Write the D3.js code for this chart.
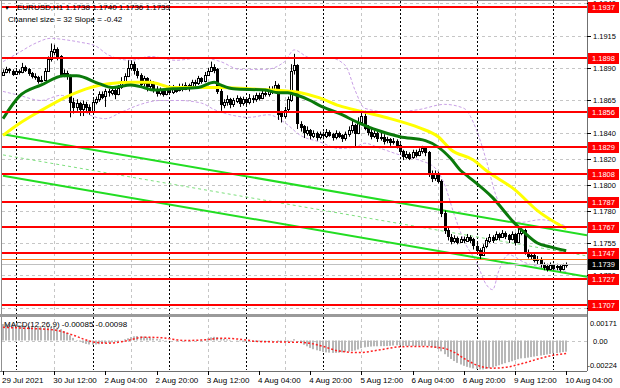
<!DOCTYPE html>
<html>
<head>
<meta charset="utf-8">
<script src="https://cdn.jsdelivr.net/npm/d3@7"></script>
<style>
  body { margin: 0; background: #fff; }
  svg { display: block; font-family: "Liberation Sans", Arial, sans-serif; }
</style>
</head>
<body>
<div id="chart"></div>
<script>
// ---- data (prices in pips above 1.1700) ----
const symbolTitle = "EURUSD,H1";
const lastBar = [1.1738, 1.1740, 1.1736, 1.1739];
const channelText = "Channel size = 32 Slope = -0.42";
const firstOpenPips = 185;

const closePips = [187,189,188,186, 188,187,191,189, 186,184,183,180,181, 188,197, 203,205, 199,185, 186,184, 164,
  160,163,158,162,160,157, 164,166,170,168,172,171, 173,170,175, 180,184,190,193,188, 185,178,182,176,179,
  174,171,173,170,174,172,175,173,176, 174,177,175,179,178,182,180, 185,188,191,189, 172,162,
  164,166,162,165,167,163,166,164,167, 166,169,167,171,170,174,172,177, 155, 153,158,166, 188,192, 147,
  145,140,142,138,140,137,139, 138,141,139,137,140,138,136,139, 142,146,140,148,153,144,
  141,138,140,136,137,134,135, 133,134,131, 126,122,124,121, 125,123,126,128,125, 109, 105,109,103,
  78, 65, 60, 57,59,56,58,57,60,58, 53, 50, 46, 52, 57,60,58,62,60,63,61, 58,62,56,63,65, 48, 45,
  46,42,43,39, 37,35,38,36,37,35,38,39];

const highPips = [189,191,190,189,190,189,194,192,190,187,186,184,184,
  190,199,209,208,206,200,189,188,185,167,166,164,165,164,162,
  166,168,172,172,174,174,176,175,177,183,186,196,196,195,190,186,184,183,181,
  180,176,175,174,176,175,177,176,178,178,179,178,181,181,184,183,
  187,190,195,193,190,174,166,169,167,167,169,168,168,167,170,
  169,171,171,173,174,176,176,180,178,157,160,168,193,201,193,
  149,146,145,143,142,141,141,141,143,142,140,142,141,139,141,
  145,150,147,152,157,157,146,143,142,141,140,139,137,136,136,135,
  132,127,126,125,127,127,128,130,129,126,111,111,110,104,80,67,
  62,61,60,60,60,62,61,59,55,51,54,59,62,61,64,63,65,64,62,64,63,67,67,
  66,50,48,47,45,44,40,39,40,39,39,38,39,40];

const lowPips = [184,186,186,184,185,185,186,187,184,182,181,178,179,
  180,187,195,200,196,183,183,181,152,155,157,153,153,156,154,
  156,162,164,166,160,168,169,166,169,174,178,183,188,185,182,175,176,172,174,
  171,168,169,168,169,170,170,171,172,172,173,172,174,176,177,178,
  179,184,187,186,170,157,159,161,159,160,163,160,161,161,162,
  163,164,165,166,168,168,170,171,150,148,151,156,164,185,143,
  141,136,138,135,136,134,135,135,136,137,134,135,136,133,134,
  137,140,129,139,146,142,138,135,136,133,134,131,132,130,131,128,
  123,119,120,119,120,121,122,124,122,106,102,103,101,75,62,57,
  54,55,54,55,55,56,55,50,47,42,45,51,55,55,57,57,59,58,55,57,53,55,61,
  46,43,42,40,38,36,34,33,34,34,34,33,34,36];

// moving averages, sampled [bar, pips]
const fastMaBars = [0,5,12,19,23,30,34,40,44,47,53,61,66,68,72,82,86,89,92,96,99,105,111,117,124,132,136,140,143,145,153,160,163,167,171,176];
const fastMa     = [151,168,177,184,184,178,175,177,175,173,174,175,179,177,174,173,171,171,169,165,161,155,148,142,137,134,129,120,111,107,90,70,63,55,52,49];
const slowMaBars = [0,5,11,20,26,33,41,46,53,61,68,77,85,93,99,105,113,121,130,136,140,147,151,160,167,176];
const slowMa     = [138,147,156,168,174,178,179,179,175,175,175,174,173,171,167,161,156,151,144,137,127,119,111,96,80,66];

// envelope bands (dashed), sampled [bar, pips]
const upperBandBars = [0,5,10,15,19,24,29,33,40,46,54,62,68,74,82,88,91,96,102,107,110,113,121,130,138,144,148,151,154,157,162,168,176];
const upperBand     = [195,202,209,213,212,210,207,200,196,199,196,198,195,189,189,195,204,198,198,192,173,159,156,158,162,159,142,119,92,77,71,73,68];
const lowerBandBars = [0,5,12,18,23,27,32,37,43,49,55,62,66,71,77,83,88,93,99,105,110,113,118,124,130,135,138,141,144,148,151,153,155,158,163,169,176];
const lowerBand     = [172,169,165,169,162,154,151,156,162,165,165,163,158,154,152,154,148,138,133,128,129,132,128,123,119,113,100,77,57,40,23,19,34,46,40,36,33];

// regression channel [bar, upper, lower]
const channelStart = [0, 1.1839, 1.1807];
const channelEnd   = [182.5, 1.1761, 1.1729];

// horizontal levels
const levels = [1.1937, 1.1898, 1.1856, 1.1829, 1.1808, 1.1787, 1.1767, 1.1747, 1.1727, 1.1707];
const pendingLevel = 1.1743;
const bidPrice = 1.1739;
const priceTicks = [1.1940, 1.1915, 1.1890, 1.1865, 1.1840, 1.1820, 1.1800, 1.1780, 1.1755, 1.1730, 1.1705];

// MACD histogram (x 1e-5), one per bar
const macdHist = [125,124,123,121,119,117,115,113,110,107,104,101,99,
  100,102,104,104,98,86,72,58,40,20,4,-8,-18,-26,-30,-32,-30,-28,-25,-22,-18,-14,-10,-5,
  2,9,17,26,32,34,32,30,25,22,
  16,11,8,4,2,0,-1,-2,-1,0,-1,0,1,0,2,4,
  10,16,24,28,25,18,12,
  8,4,0,-3,-5,-6,-8,-9,-10,-9,-8,-7,-5,-3,-2,0,-6,-10,-12,-10,2,10,
  0,-18,-32,-44,-56,-66,-74,-80,
  -86,-90,-92,-94,-94,-92,-90,-88,-84,
  -80,-76,-68,-58,-52,-48,-46,-44,-44,-43,-43,-42,-40,-38,-37,
  -38,-40,-41,-42,-42,-41,-40,-40,-40,-42,-50,-56,
  -64,-82,-104,-124,-140,-156,-170,-182,-192,-200,-206,
  -212,-216,-220,-220,-216,-210,-204,
  -196,-188,-180,-172,-164,-158,-150,-142,-136,-134,-130,-126,-122,-118,-114,-110,-106,-102,-98,-95,-92,-88,-85];
const signalBars = [0,8,16,22,28,33,38,44,50,57,63,68,74,80,88,94,100,105,111,118,124,130,137,141,145,149,153,158,163,168,172,176];
const signal     = [100,92,80,40,-10,-20,-5,25,20,0,5,18,10,-8,-12,-15,-45,-80,-92,-70,-48,-45,-55,-90,-150,-195,-210,-200,-170,-135,-112,-98];
const macdTicks = [0.00171, 0, -0.00224];
const macdText = "MACD(12,26,9) -0.00085 -0.00098";

const timeLabels = ["29 Jul 2021","30 Jul 12:00","2 Aug 04:00","2 Aug 20:00","3 Aug 12:00","4 Aug 04:00",
  "4 Aug 20:00","5 Aug 12:00","6 Aug 04:00","6 Aug 20:00","9 Aug 12:00","10 Aug 04:00"];
const timeLabelBars = [0,16,32,48,64,80,96,112,128,144,160,176];
const daySeparatorBars = [4,28,52,76,100,124,148,172];
const midGridBars = [16,40,64,88,112,136,160];

// ---- layout ----
const pip = p => 1.17 + p / 10000;
const width = 620, height = 388;
const plotRight = 587, plotLeft = 2;
const mainTop = 2, mainBottom = 313;
const macdTop = 318, macdBottom = 370;

const xScale = d3.scaleLinear().domain([0, 182.5]).range([3, plotRight]);
const yScale = d3.scaleLinear().domain([1.1701, 1.1941]).range([mainBottom, mainTop]);
const yMacd = d3.scaleLinear().domain([-0.00224, 0.00171]).range([macdBottom, macdTop]);

const svg = d3.select("#chart").append("svg").attr("width", width).attr("height", height);
svg.append("rect").attr("width", width).attr("height", height).attr("fill", "#fff");

const defs = svg.append("defs");
defs.append("clipPath").attr("id", "clipMain").append("rect")
  .attr("x", plotLeft).attr("y", 1).attr("width", plotRight - plotLeft).attr("height", mainBottom);
defs.append("clipPath").attr("id", "clipMacd").append("rect")
  .attr("x", plotLeft).attr("y", macdTop - 1).attr("width", plotRight - plotLeft).attr("height", macdBottom - macdTop + 2);

const crisp = v => Math.round(v) + 0.5;

// grid
const grid = svg.append("g");
grid.selectAll(".hgrid").data(priceTicks).join("line")
  .attr("x1", plotLeft).attr("x2", plotRight)
  .attr("y1", d => crisp(yScale(d))).attr("y2", d => crisp(yScale(d)))
  .attr("stroke", "#c6c6c6").attr("stroke-dasharray", "3,3");
grid.selectAll(".vgrid").data(midGridBars).join("line")
  .attr("x1", d => crisp(xScale(d))).attr("x2", d => crisp(xScale(d)))
  .attr("y1", 1).attr("y2", macdBottom)
  .attr("stroke", "#c6c6c6").attr("stroke-dasharray", "3,3");
grid.selectAll(".dsep").data(daySeparatorBars).join("line")
  .attr("x1", d => crisp(xScale(d))).attr("x2", d => crisp(xScale(d)))
  .attr("y1", 1).attr("y2", macdBottom)
  .attr("stroke", "#000").attr("stroke-dasharray", "2,2");
grid.append("line").attr("x1", plotLeft).attr("x2", plotRight)
  .attr("y1", crisp(yMacd(0))).attr("y2", crisp(yMacd(0)))
  .attr("stroke", "#c6c6c6").attr("stroke-dasharray", "3,3");

const main = svg.append("g").attr("clip-path", "url(#clipMain)");

// bands
const sampled = (bars, vals) => bars.map((b, k) => ({ b, v: pip(vals[k]) }));
const lineGen = d3.line().x(d => xScale(d.b)).y(d => yScale(d.v)).curve(d3.curveMonotoneX);
[[upperBandBars, upperBand], [lowerBandBars, lowerBand]].forEach(([b, v]) => {
  main.append("path").datum(sampled(b, v)).attr("d", lineGen)
    .attr("fill", "none").attr("stroke", "#c9a0e6").attr("stroke-width", 1).attr("stroke-dasharray", "3,2");
});

// channel
const chUp = [{ b: channelStart[0], v: channelStart[1] }, { b: channelEnd[0], v: channelEnd[1] }];
const chLo = [{ b: channelStart[0], v: channelStart[2] }, { b: channelEnd[0], v: channelEnd[2] }];
const chMid = chUp.map((d, k) => ({ b: d.b, v: (d.v + chLo[k].v) / 2 }));
const straight = d3.line().x(d => xScale(d.b)).y(d => yScale(d.v));
main.append("path").datum(chMid).attr("d", straight).attr("fill", "none")
  .attr("stroke", "#7ee07e").attr("stroke-width", 1).attr("stroke-dasharray", "3,3");
[chUp, chLo].forEach(c => main.append("path").datum(c).attr("d", straight)
  .attr("fill", "none").attr("stroke", "#22dd22").attr("stroke-width", 2));

// candles
const candles = closePips.map((c, i) => ({
  i, o: pip(i ? closePips[i - 1] : firstOpenPips), h: pip(highPips[i]), l: pip(lowPips[i]), c: pip(c)
}));
const cg = main.append("g");
cg.selectAll(".wick").data(candles).join("line")
  .attr("x1", d => crisp(xScale(d.i))).attr("x2", d => crisp(xScale(d.i)))
  .attr("y1", d => yScale(d.h)).attr("y2", d => yScale(d.l))
  .attr("stroke", "#000").attr("stroke-width", 1);
cg.selectAll(".body").data(candles).join("rect")
  .attr("x", d => Math.round(xScale(d.i)) - 0.5)
  .attr("y", d => Math.round(yScale(Math.max(d.o, d.c))) + 0.5)
  .attr("width", 2)
  .attr("height", d => Math.max(0.5, Math.round(Math.abs(yScale(d.o) - yScale(d.c)))))
  .attr("fill", d => d.c >= d.o ? "#fff" : "#000")
  .attr("stroke", "#000").attr("stroke-width", 1);

// moving averages
main.append("path").datum(sampled(slowMaBars, slowMa)).attr("d", lineGen)
  .attr("fill", "none").attr("stroke", "#ffff00").attr("stroke-width", 3);
main.append("path").datum(sampled(fastMaBars, fastMa)).attr("d", lineGen)
  .attr("fill", "none").attr("stroke", "#0b7a0b").attr("stroke-width", 3);

// horizontal levels
main.append("line").attr("x1", plotLeft).attr("x2", plotRight)
  .attr("y1", crisp(yScale(bidPrice))).attr("y2", crisp(yScale(bidPrice)))
  .attr("stroke", "#c0c0c0");
main.append("line").attr("x1", plotLeft).attr("x2", plotRight)
  .attr("y1", crisp(yScale(pendingLevel))).attr("y2", crisp(yScale(pendingLevel)))
  .attr("stroke", "#ff7a1a");
main.selectAll(".lvl").data(levels).join("line")
  .attr("x1", plotLeft).attr("x2", plotRight)
  .attr("y1", d => Math.round(yScale(d))).attr("y2", d => Math.round(yScale(d)))
  .attr("stroke", "#ff0000").attr("stroke-width", 2);

// MACD panel
const mg = svg.append("g").attr("clip-path", "url(#clipMacd)");
mg.selectAll(".hist").data(macdHist).join("rect")
  .attr("x", (d, i) => Math.round(xScale(i)) - 1)
  .attr("width", 2)
  .attr("y", d => Math.min(yMacd(0), yMacd(d / 1e5)))
  .attr("height", d => Math.abs(yMacd(d / 1e5) - yMacd(0)))
  .attr("fill", "#b8b8b8");
mg.append("path")
  .datum(signalBars.map((b, k) => ({ b, v: signal[k] / 1e5 })))
  .attr("d", d3.line().x(d => xScale(d.b)).y(d => yMacd(d.v)).curve(d3.curveMonotoneX))
  .attr("fill", "none").attr("stroke", "#ff2020").attr("stroke-width", 1.5).attr("stroke-dasharray", "2,2");

// frames
svg.append("line").attr("x1", 0).attr("x2", plotRight).attr("y1", 0.5).attr("y2", 0.5).attr("stroke", "#909090");
svg.append("line").attr("x1", 1.5).attr("x2", 1.5).attr("y1", 0).attr("y2", macdBottom + 1).attr("stroke", "#909090");
svg.append("rect").attr("x", 0).attr("y", 314).attr("width", plotRight + 1).attr("height", 3).attr("fill", "#9a9a9a");
svg.append("line").attr("x1", plotRight + 0.5).attr("x2", plotRight + 0.5).attr("y1", 0).attr("y2", macdBottom + 1)
  .attr("stroke", "#707070");
svg.append("line").attr("x1", 0).attr("x2", plotRight).attr("y1", macdBottom + 1.5).attr("y2", macdBottom + 1.5)
  .attr("stroke", "#707070");

// price axis
const axis = svg.append("g").attr("font-size", 7.5).attr("fill", "#000");
axis.selectAll(".ptick").data(priceTicks).join("line")
  .attr("x1", plotRight).attr("x2", plotRight + 4)
  .attr("y1", d => crisp(yScale(d))).attr("y2", d => crisp(yScale(d))).attr("stroke", "#000");
axis.selectAll(".plab").data(priceTicks).join("text")
  .attr("x", plotRight + 6).attr("y", d => yScale(d) + 3)
  .text(d => d.toFixed(4));

// macd axis
axis.selectAll(".mlab").data(macdTicks).join("text")
  .attr("x", 617).attr("text-anchor", "end")
  .attr("y", d => Math.max(macdTop + 8, Math.min(macdBottom - 2, yMacd(d) + 3)))
  .text(d => d === 0 ? "0.00" : d.toFixed(5))
  .filter(d => d === 0).attr("x", plotRight + 6).attr("text-anchor", "start");

// level labels
function tag(price, bg) {
  const yy = Math.round(yScale(price));
  axis.append("rect").attr("x", plotRight + 1).attr("y", yy - 5).attr("width", 31).attr("height", 11).attr("fill", bg);
  axis.append("text").attr("x", plotRight + 5).attr("y", yy + 3).attr("fill", "#fff").text(price.toFixed(4));
}
tag(pendingLevel, "#ff5a1a");
levels.forEach(l => tag(l, "#ff0000"));
tag(bidPrice, "#000");

// time axis
const tx = svg.append("g").attr("font-size", 8).attr("fill", "#000");
tx.selectAll(".tt").data(timeLabelBars).join("line")
  .attr("x1", d => crisp(xScale(d))).attr("x2", d => crisp(xScale(d)))
  .attr("y1", macdBottom + 1).attr("y2", macdBottom + 5).attr("stroke", "#000");
tx.selectAll(".tl").data(timeLabels).join("text")
  .attr("x", (d, k) => Math.max(2, xScale(timeLabelBars[k]) - 1))
  .attr("y", 383)
  .text(d => d);

// header texts
const hdr = svg.append("g").attr("font-size", 8).attr("fill", "#000");
hdr.append("text").attr("x", 4).attr("y", 10).attr("font-size", 6).text("\u25BC");
hdr.append("text").attr("x", 17).attr("y", 10).text(symbolTitle + "  " + lastBar.map(v => v.toFixed(4)).join(" "));
hdr.append("text").attr("x", 8).attr("y", 22).text(channelText);
hdr.append("text").attr("x", 4).attr("y", 327).text(macdText);
</script>
</body>
</html>
